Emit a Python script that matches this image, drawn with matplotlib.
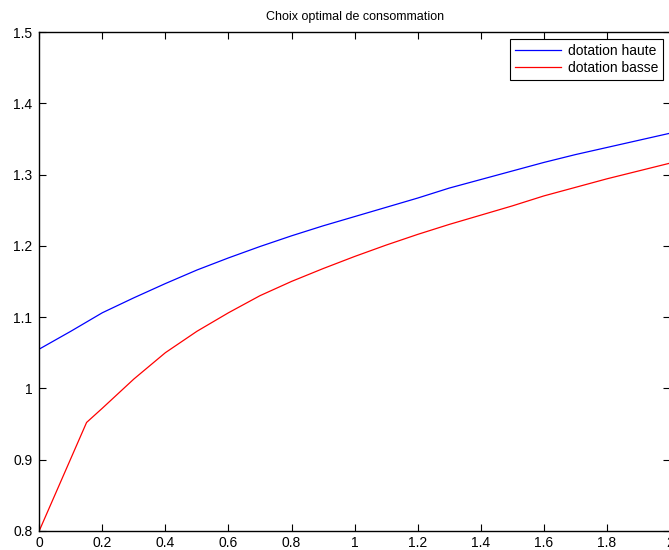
import matplotlib
matplotlib.use("Agg")
import matplotlib.pyplot as plt

# Data
x_haute = [0.0, 0.1, 0.2, 0.3, 0.4, 0.5, 0.6, 0.7, 0.8, 0.9, 1.0,
           1.1, 1.2, 1.3, 1.4, 1.5, 1.6, 1.7, 1.8, 1.9, 2.0]
y_haute = [1.055, 1.080, 1.106, 1.127, 1.147, 1.166, 1.183, 1.199, 1.214, 1.228, 1.241,
           1.254, 1.267, 1.281, 1.293, 1.305, 1.317, 1.328, 1.338, 1.348, 1.358]

x_basse = [0.0, 0.15, 0.2, 0.3, 0.4, 0.5, 0.6, 0.7, 0.8, 0.9, 1.0,
           1.1, 1.2, 1.3, 1.4, 1.5, 1.6, 1.7, 1.8, 1.9, 2.0]
y_basse = [0.800, 0.952, 0.972, 1.013, 1.050, 1.080, 1.106, 1.130, 1.150, 1.168, 1.185,
           1.201, 1.216, 1.230, 1.243, 1.256, 1.270, 1.282, 1.294, 1.305, 1.316]

labels = ["dotation haute", "dotation basse"]
title = "Choix optimal de consommation"
xticks = [0, 0.2, 0.4, 0.6, 0.8, 1, 1.2, 1.4, 1.6, 1.8, 2]
xtick_labels = ["0", "0.2", "0.4", "0.6", "0.8", "1", "1.2", "1.4", "1.6", "1.8", "2"]
yticks = [0.8, 0.9, 1, 1.1, 1.2, 1.3, 1.4, 1.5]
ytick_labels = ["0.8", "0.9", "1", "1.1", "1.2", "1.3", "1.4", "1.5"]

plt.rcParams['font.family'] = ['Liberation Sans', 'DejaVu Sans']

fig = plt.figure(figsize=(6.69, 5.5), dpi=100)
ax = fig.add_axes([0.0587, 0.035, 0.9428, 0.9067])

ax.plot(x_haute, y_haute, color='#0000ff', lw=0.9, label=labels[0])
ax.plot(x_basse, y_basse, color='#ff0000', lw=0.9, label=labels[1])

ax.set_xlim(0, 2)
ax.set_ylim(0.8, 1.5)
ax.set_xticks(xticks)
ax.set_xticklabels(xtick_labels)
ax.set_yticks(yticks)
ax.set_yticklabels(ytick_labels)
ax.tick_params(direction='in', length=5, width=0.8, top=True, right=True,
               labelsize=10, colors='black')
ax.tick_params(axis='x', pad=4)
ax.tick_params(axis='y', pad=5)
for s in ax.spines.values():
    s.set_linewidth(1.0)

ax.set_title(title, fontsize=9, pad=9)

leg = ax.legend(loc='upper right', fontsize=10, fancybox=False, edgecolor='black',
                framealpha=1, handlelength=3.3, handletextpad=0.5,
                borderpad=0.35, labelspacing=0.2, borderaxespad=0.5)
leg.get_frame().set_linewidth(0.8)

fig.savefig("out.png", dpi=100)
